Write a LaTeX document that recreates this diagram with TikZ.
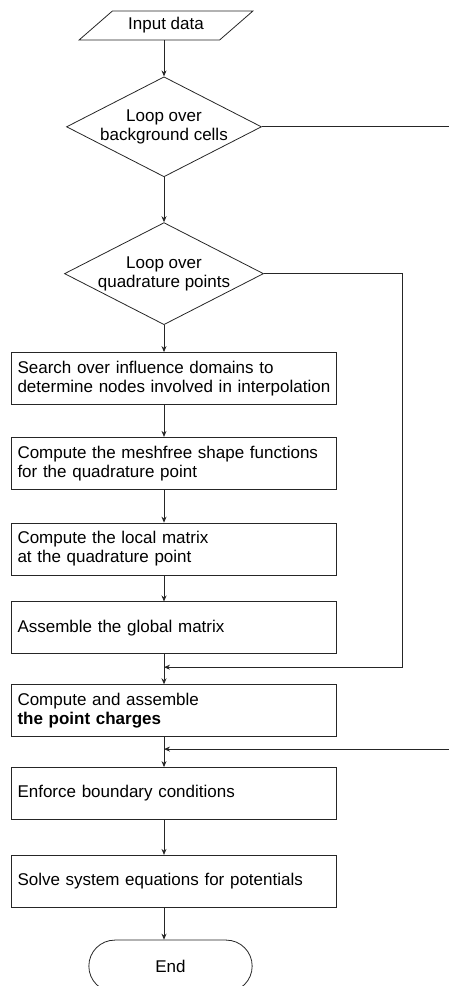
\documentclass[tikz,border=0pt]{standalone}
\usepackage{fontspec}
\setmainfont{Liberation Sans}
\usepackage{tikz}
\usetikzlibrary{positioning,arrows.meta,shapes.geometric,shapes.misc}
\usepackage{xcolor}

\begin{document}
\begin{tikzpicture}[>={Stealth[length=6pt,width=5pt]},
  line width=0.8pt, draw=black!85,
  every node/.style={font=\fontsize{17pt}{19pt}\selectfont},
  datain/.style={draw,trapezium,trapezium left angle=34,trapezium right angle=146,
    trapezium stretches=true,minimum width=174pt,minimum height=29pt,inner sep=0pt},
  decision/.style={draw,diamond,aspect=1.95,inner sep=0pt,align=center,
    minimum width=195pt,minimum height=100pt},
  stepbox/.style={draw,rectangle,text width=313pt,inner xsep=6pt,inner ysep=0pt,
    minimum height=52pt,align=left},
  term/.style={draw,rounded rectangle,minimum width=170pt,minimum height=52pt}]
\useasboundingbox (0,0) rectangle (449pt,-986pt);
\node[datain] (in) at (166pt,-25.5pt) {Input data};
\node[decision, below=36pt of in, xshift=-2pt] (cells) {Loop over\\background cells};
\node[decision, below=45pt of cells] (quad) {Loop over\\quadrature points};
\node[stepbox, below=27pt of quad, xshift=10pt] (search) {Search over influence domains to\\determine nodes involved in interpolation};
\node[stepbox, below=32pt of search] (shapefn) {Compute the meshfree shape functions\\for the quadrature point};
\node[stepbox, below=33pt of shapefn] (local) {Compute the local matrix\\at the quadrature point};
\node[stepbox, below=26pt of local] (assemble) {Assemble the global matrix};
\node[stepbox, below=30pt of assemble] (charges) {Compute and assemble\\\textbf{the point charges}};
\node[stepbox, below=30pt of charges] (enforce) {Enforce boundary conditions};
\node[stepbox, below=35pt of enforce] (solve) {Solve system equations for potentials};
\node[term, below=32pt of solve, xshift=-3.5pt] (stop) {End};

% joins on the main line
\coordinate (edge) at (449.5pt,0);
\path (assemble.south -| quad) -- (charges.north -| quad) coordinate[pos=.43] (j1);
\path (charges.south -| quad) -- (enforce.north -| quad) coordinate[pos=.4] (j2);

\draw[->] (in.south -| cells) -- (cells.north);
\draw[->] (cells) -- (quad);
\foreach \a/\b in {quad/search,search/shapefn,shapefn/local,local/assemble,
  assemble/charges,charges/enforce,enforce/solve,solve/stop}
  \draw[->] (\a.south -| quad) -- (\b.north -| quad);

% loop exits
\draw[->] (quad.east) -- ++(138pt,0) |- (j1);
\draw[->] (cells.east) -- (cells.east -| edge) |- (j2);
\end{tikzpicture}
\end{document}
